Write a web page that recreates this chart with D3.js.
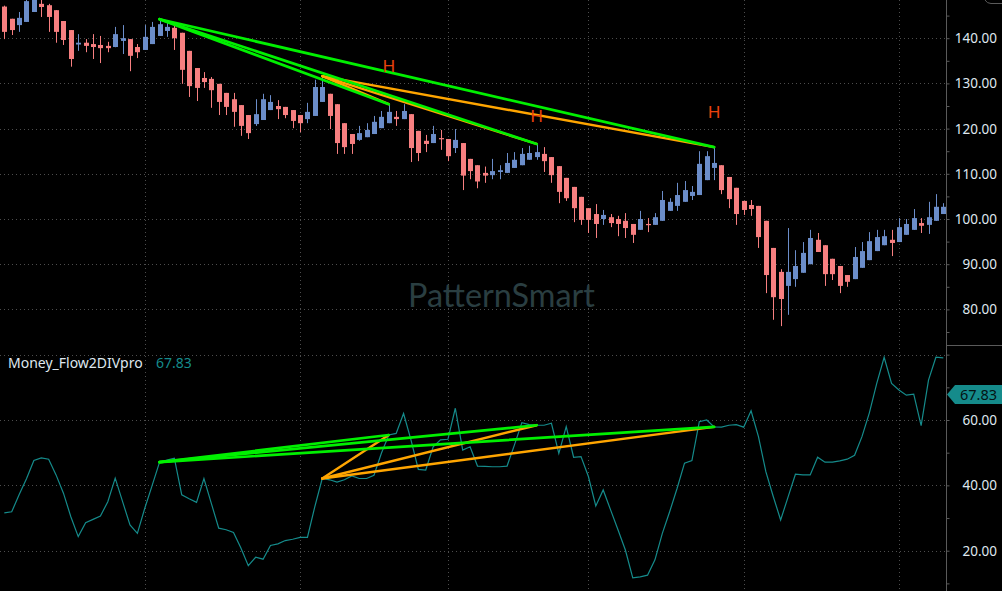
<!DOCTYPE html>
<html>
<head>
<meta charset="utf-8">
<script src="https://cdn.jsdelivr.net/npm/d3@7"></script>
<style>
  html, body { margin: 0; padding: 0; background: #000; overflow: hidden; }
  svg { display: block; }
</style>
</head>
<body>
<svg id="chart" width="1002" height="591"></svg>
<script>
// ---------------- DATA ----------------
const opens = [147.0,144.3,142.9,143.6,145.8,147.6,147.3,146.2,143.8,141.8,138.6,139.0,138.7,138.5,138.3,138.05,139.4,139.8,138.05,137.4,
  138.7,140.5,141.6,142.3,141.2,137.2,133.4,131.2,131.0,129.9,127.9,126.5,125.2,123.0,121.0,121.9,124.1,125.0,124.8,124.1,
  123.0,122.1,122.8,125.9,127.7,125.4,121.2,118.8,117.5,118.1,118.8,120.1,121.2,122.6,122.1,123.2,119.5,117.3,116.8,117.9,
  117.7,115.7,116.8,113.3,111.9,110.2,109.7,110.4,110.2,111.3,111.9,113.1,113.7,114.4,113.7,111.7,109.1,107.1,104.9,102.4,
  101.1,100.0,100.4,100.0,99.6,98.9,97.6,98.9,98.7,99.6,101.8,102.9,103.8,105.1,105.3,108.6,111.3,111.9,109.3,106.9,
  104.0,103.1,102.9,99.6,93.6,88.3,85.2,86.7,88.1,90.0,95.4,94.2,91.2,89.6,87.6,86.7,89.2,90.9,92.9,94.2,
  95.4,94.9,96.5,97.6,99.1,98.7,99.6,101.1];
const highs = [147.2,144.3,145.8,149.5,150.0,149.0,147.6,146.2,143.8,141.8,140.9,139.8,140.9,140.5,139.2,142.5,142.9,139.8,138.7,142.9,
  143.6,144.2,143.6,142.9,141.2,137.2,133.4,132.5,131.4,129.9,127.9,127.9,125.2,123.0,126.5,127.7,127.4,126.3,124.8,124.1,
  123.0,125.7,130.8,131.6,127.7,125.4,121.2,118.8,120.6,121.2,122.8,123.9,125.4,123.9,125.4,123.2,119.5,118.6,120.6,119.7,
  117.7,119.9,116.8,113.3,111.9,111.6,113.3,111.9,114.6,114.8,115.7,116.2,116.6,115.9,113.7,111.7,109.1,107.1,104.9,102.4,
  103.3,102.0,101.1,100.7,101.3,98.9,101.8,100.2,101.3,106.2,104.6,108.0,108.4,107.3,115.0,115.0,115.9,111.9,109.3,106.9,
  104.0,104.2,102.9,99.6,93.6,88.9,98.0,93.1,94.9,97.6,96.9,94.2,91.2,89.6,87.6,93.8,94.9,97.1,97.6,97.6,
  97.6,100.2,100.0,102.2,100.2,103.8,105.5,103.5];
const lows = [139.8,140.7,141.4,143.6,145.8,144.7,141.4,139.0,138.5,133.7,137.2,136.9,135.4,134.5,136.9,138.0,136.5,132.7,135.6,137.4,
  138.7,140.5,140.3,137.4,129.9,127.0,126.1,129.0,124.6,123.0,123.0,120.4,118.4,117.7,120.6,121.9,124.1,122.1,122.3,120.1,
  119.2,121.2,122.8,125.9,119.9,114.4,114.4,114.4,117.3,118.1,118.8,120.1,121.2,120.6,122.1,112.6,112.8,114.8,116.8,115.3,
  112.8,114.6,106.4,108.8,106.8,108.0,108.8,108.8,110.2,111.3,111.9,113.1,113.1,110.4,108.0,103.5,104.0,99.3,98.7,96.9,
  95.8,98.7,98.2,96.2,95.8,94.7,97.6,97.1,98.7,99.6,101.8,101.8,103.8,104.2,105.3,108.6,108.6,105.5,102.4,98.7,
  100.9,100.7,93.6,83.6,77.7,76.3,78.8,85.0,88.1,90.0,92.7,85.2,86.5,83.6,85.0,86.7,89.2,90.9,92.9,94.2,
  91.8,94.9,96.5,97.6,96.9,96.7,99.6,101.1];
const closes = [141.4,141.8,144.5,148.2,149.5,146.9,144.7,141.4,139.6,135.4,139.0,138.3,138.05,137.8,137.8,140.9,140.0,136.1,136.9,140.3,
  142.5,143.1,142.5,140.0,133.0,129.4,129.0,130.3,128.5,125.9,124.8,123.7,120.6,119.0,123.2,126.5,125.9,124.3,123.0,121.7,
  121.2,123.7,129.2,129.2,122.8,116.8,115.9,116.6,119.0,119.7,121.5,122.6,123.7,122.1,123.9,115.7,114.6,116.6,118.8,117.7,
  113.9,117.5,109.6,110.6,108.3,109.6,110.6,110.8,112.4,113.1,114.4,114.6,114.8,112.8,109.7,106.0,104.6,102.4,99.8,99.8,
  98.9,100.9,99.1,98.9,98.0,96.5,100.0,98.7,100.4,104.2,103.8,105.3,106.4,106.0,112.2,113.9,112.4,106.4,104.4,101.1,
  102.0,102.2,96.0,87.6,82.7,82.3,88.3,89.6,92.5,95.8,92.7,87.8,87.8,85.2,86.1,91.6,92.9,95.1,96.0,96.2,
  94.7,98.2,98.9,100.2,98.5,100.4,102.7,102.7];
const moneyFlow = [31.6,31.9,37.1,42.0,47.6,48.4,48.0,43.2,37.6,30.4,24.3,28.6,29.6,30.6,35.0,42.2,35.0,27.9,25.3,33.0,
  40.0,47.1,47.7,48.3,37.1,35.9,34.8,42.1,34.5,26.9,26.4,25.6,20.8,15.4,18.0,17.4,21.6,22.1,23.1,23.5,
  24.1,24.1,33.5,42.1,41.7,41.0,41.7,42.9,42.1,42.1,43.1,49.8,55.4,55.9,62.0,53.9,44.9,44.7,51.8,53.9,
  54.1,63.6,50.8,51.8,45.9,45.8,45.7,45.7,45.9,52.4,59.2,58.6,58.4,58.4,59.0,49.8,58.0,48.6,48.8,42.7,
  33.7,38.6,32.5,26.4,20.2,11.7,12.0,12.5,17.2,25.3,32.0,39.1,46.8,47.6,59.5,60.0,57.9,57.8,58.4,58.6,
  57.8,62.8,54.9,44.2,36.6,29.4,36.4,43.4,43.2,43.2,48.6,47.1,47.1,47.5,48.0,49.2,54.9,62.2,71.2,79.2,
  71.2,69.2,67.6,67.9,58.3,72.2,79.2,79.0];
const priceTicks = [80, 90, 100, 110, 120, 130, 140];
const mfTicks = [20, 40, 60];
const mfGrid = [20, 40, 60, 80];
const gridBars = [19, 40, 60, 79, 100, 121];      // month separators (bar index)
const greenPairs = [[21, 52], [21, 72], [21, 96]];
const orangePairs = [[43, 52], [43, 72], [43, 96]];
const hLabels = [{bar: 52, price: 133.9}, {bar: 72, price: 122.9}, {bar: 96, price: 123.7}];
const indicatorName = "Money_Flow2DIVpro";
const lastValue = 67.83;
const watermark = "PatternSmart";

// ---------------- LAYOUT ----------------
const W = 1002, H = 591;
const axisX = 946;
const splitY = 345;
const n = opens.length;

const x = d3.scaleLinear().domain([0, n - 1]).range([4.3, 943.3]);
const yP = d3.scaleLinear().domain([80, 140]).range([309.4, 38.2]);
const yM = d3.scaleLinear().domain([20, 60]).range([550.7, 420]);

const COL = {
  up: "#6b8dc9", down: "#f77f80", grid: "#4d4d4d", axis: "#5a5a5a",
  text: "#dfe7ef", teal: "#158b8b", green: "#00f000", orange: "#ffa500",
  hText: "#e8420c", wm: "#2a3e41"
};

const svg = d3.select("#chart");
svg.append("rect").attr("width", W).attr("height", H).attr("fill", "#000");

const defs = svg.append("defs");
defs.append("clipPath").attr("id", "clipTop").append("rect")
  .attr("x", 0).attr("y", 0).attr("width", axisX).attr("height", splitY);
defs.append("clipPath").attr("id", "clipBot").append("rect")
  .attr("x", 0).attr("y", splitY).attr("width", axisX).attr("height", H - splitY);

// ---------------- GRID ----------------
const grid = svg.append("g").attr("stroke", COL.grid).attr("stroke-dasharray", "1,3").attr("stroke-width", 1);
grid.selectAll("line.h1").data(priceTicks).join("line").attr("class", "h1")
  .attr("x1", 0).attr("x2", axisX)
  .attr("y1", d => Math.round(yP(d)) + 0.5).attr("y2", d => Math.round(yP(d)) + 0.5);
grid.selectAll("line.h2").data(mfGrid).join("line").attr("class", "h2")
  .attr("x1", 0).attr("x2", axisX)
  .attr("y1", d => Math.round(yM(d)) + 0.5).attr("y2", d => Math.round(yM(d)) + 0.5);
grid.selectAll("line.v").data(gridBars).join("line").attr("class", "v")
  .attr("y1", 0).attr("y2", H)
  .attr("x1", d => Math.round(x(d)) + 0.5).attr("x2", d => Math.round(x(d)) + 0.5);

// ---------------- WATERMARK ----------------
const wm = svg.append("text").text(watermark)
  .attr("font-family", "Lato, 'Open Sans', sans-serif")
  .attr("font-size", 34).attr("fill", COL.wm);
{
  const w0 = wm.node().getComputedTextLength();
  const fs = w0 > 0 ? 34 * 187 / w0 : 34;
  wm.attr("font-size", fs).attr("x", 408).attr("y", 307);
}

// ---------------- CANDLES ----------------
const topG = svg.append("g").attr("clip-path", "url(#clipTop)");
const candles = topG.selectAll("g.c").data(d3.range(n)).join("g").attr("class", "c");
candles.append("line")
  .attr("x1", i => Math.round(x(i)) + 0.5).attr("x2", i => Math.round(x(i)) + 0.5)
  .attr("y1", i => yP(highs[i])).attr("y2", i => yP(lows[i]))
  .attr("stroke", i => closes[i] >= opens[i] ? COL.up : COL.down).attr("stroke-width", 1);
candles.append("rect")
  .attr("x", i => Math.round(x(i)) - 2)
  .attr("width", 5)
  .attr("y", i => yP(Math.max(opens[i], closes[i])))
  .attr("height", i => Math.max(1.2, Math.abs(yP(opens[i]) - yP(closes[i]))))
  .attr("fill", i => closes[i] >= opens[i] ? COL.up : COL.down);

// trendlines
function drawPairs(g, pairs, valFn, yScale, color, width) {
  g.selectAll(null).data(pairs).join("line")
    .attr("x1", p => x(p[0])).attr("y1", p => yScale(valFn(p[0])))
    .attr("x2", p => x(p[1])).attr("y2", p => yScale(valFn(p[1])))
    .attr("stroke", color).attr("stroke-width", width).attr("stroke-linecap", "round");
}
drawPairs(topG, orangePairs, i => highs[i], yP, COL.orange, 2.4);
drawPairs(topG, greenPairs, i => highs[i], yP, COL.green, 2.7);

topG.selectAll("text.h").data(hLabels).join("text").attr("class", "h")
  .attr("x", d => x(d.bar)).attr("y", d => yP(d.price) + 6.5)
  .attr("text-anchor", "middle")
  .attr("font-family", "'Liberation Sans', Arial, sans-serif")
  .attr("font-size", 17).attr("fill", COL.hText)
  .text("H");

// ---------------- INDICATOR ----------------
const botG = svg.append("g").attr("clip-path", "url(#clipBot)");
botG.append("path").datum(moneyFlow)
  .attr("d", d3.line().x((d, i) => x(i)).y(d => yM(d)))
  .attr("fill", "none").attr("stroke", COL.teal).attr("stroke-width", 1.2);
drawPairs(botG, orangePairs, i => moneyFlow[i], yM, COL.orange, 2.4);
drawPairs(botG, greenPairs, i => moneyFlow[i], yM, COL.green, 2.7);

// legend
const leg = svg.append("text").attr("x", 8).attr("y", 367.5)
  .attr("font-family", "'Noto Sans', 'Open Sans', sans-serif").attr("font-size", 14);
leg.append("tspan").attr("fill", COL.text).text(indicatorName);
leg.append("tspan").attr("x", 156).attr("fill", COL.teal).text(lastValue.toFixed(2));

// ---------------- AXES ----------------
svg.append("line").attr("x1", axisX + 0.5).attr("x2", axisX + 0.5).attr("y1", 0).attr("y2", H)
  .attr("stroke", COL.axis);
svg.append("line").attr("x1", axisX).attr("x2", W).attr("y1", splitY + 0.5).attr("y2", splitY + 0.5)
  .attr("stroke", COL.axis);
svg.append("path").attr("d", "M985,0 Q987,3.5 991,3.5 L1002,3.5")
  .attr("fill", "none").attr("stroke", COL.axis);

const axTop = svg.append("g").attr("transform", `translate(${axisX + 0.5},0)`)
  .call(d3.axisRight(yP).tickValues(d3.range(75, 150, 5)).tickSize(3).tickFormat(""));
const axBot = svg.append("g").attr("transform", `translate(${axisX + 0.5},0)`)
  .call(d3.axisRight(yM).tickValues(d3.range(10, 90, 10)).tickSize(3).tickFormat(""));
[axTop, axBot].forEach(a => {
  a.select(".domain").remove();
  a.selectAll("line").attr("stroke", COL.axis);
});
axBot.selectAll(".tick").filter(d => yM(d) < splitY + 3 || yM(d) > H).remove();
axTop.selectAll(".tick").filter(d => yP(d) > splitY - 3 || yP(d) < 0).remove();

const labelFont = "'Noto Sans', 'Open Sans', sans-serif";
svg.selectAll("text.pt").data(priceTicks).join("text").attr("class", "pt")
  .attr("x", 997).attr("y", d => yP(d) + 5)
  .attr("text-anchor", "end").attr("font-family", labelFont).attr("font-size", 13.5)
  .attr("fill", COL.text).text(d => d.toFixed(2));
svg.selectAll("text.mt").data(mfTicks).join("text").attr("class", "mt")
  .attr("x", 997).attr("y", d => yM(d) + 5)
  .attr("text-anchor", "end").attr("font-family", labelFont).attr("font-size", 13.5)
  .attr("fill", COL.text).text(d => d.toFixed(2));

// last-value badge
const by = yM(lastValue);
svg.append("path")
  .attr("d", `M${axisX + 1},${by} L${axisX + 9},${by - 9.5} L${W},${by - 9.5} L${W},${by + 9.5} L${axisX + 9},${by + 9.5} Z`)
  .attr("fill", COL.teal);
svg.append("text").attr("x", 997).attr("y", by + 5.3)
  .attr("text-anchor", "end").attr("font-family", labelFont).attr("font-size", 14.5)
  .attr("fill", "#041414").text(lastValue.toFixed(2));
</script>
</body>
</html>
